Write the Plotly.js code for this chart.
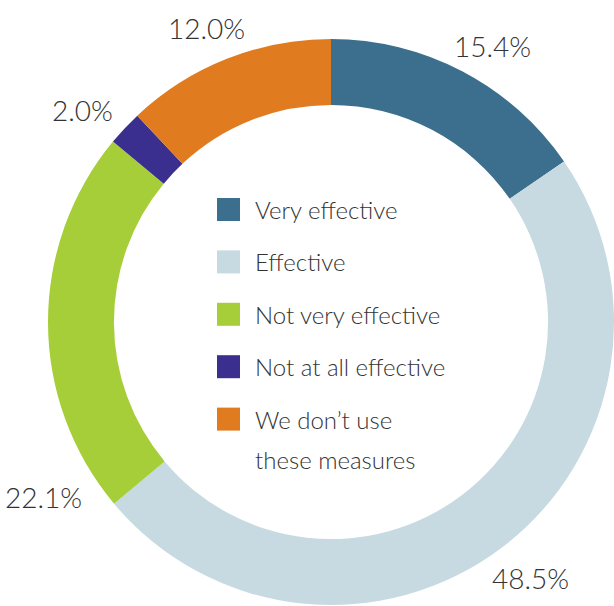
<!DOCTYPE html>
<html><head><meta charset="utf-8">
<script src="https://cdn.plot.ly/plotly-3.0.1.min.js"></script>
<style>html,body{margin:0;padding:0;background:#fff}#c{width:614px;height:606px}</style>
</head><body><div id="c"></div>
<script>
const labels = ["Very effective","Effective","Not very effective","Not at all effective","We don’t use these measures"];
const legendLines = [["Very effective"],["Effective"],["Not very effective"],["Not at all effective"],["We don’t use","these measures"]];
const values = [15.4, 48.5, 22.1, 2.0, 12.0];
const colors = ["#3C6E8E","#C7D9E1","#A6CE39","#3A2F8F","#E07B1F"];
const valueLabelPos = [[492,46],[530,578],[43,497],[82,110],[206,28]];

const W = 614, H = 606;
const FONT = "Lato, 'Open Sans', sans-serif";
const TXT = "#333333";

const annotations = [];
const shapes = [];
values.forEach((v,i)=>{
  annotations.push({x: valueLabelPos[i][0]/W, y: 1 - valueLabelPos[i][1]/H, xref:'paper', yref:'paper',
    text: v.toFixed(1)+'%', showarrow:false, xanchor:'center', yanchor:'middle',
    font:{family:FONT, size:28, color:TXT, weight:300}});
});
// legend inside the hole
const legX0 = 217, legRow0 = 209.5, legStep = 52.4, sq = 23;
legendLines.forEach((lines,i)=>{
  const cy = legRow0 + i*legStep;
  shapes.push({type:'rect', xref:'paper', yref:'paper', x0: legX0/W, x1:(legX0+sq)/W,
    y0: 1-(cy+sq/2)/H, y1: 1-(cy-sq/2)/H, fillcolor: colors[i], line:{width:0}});
  lines.forEach((t,j)=>{
    annotations.push({x: 253/W, y: 1-(cy + j*40)/H, xref:'paper', yref:'paper', text:t, showarrow:false,
      xanchor:'left', yanchor:'middle', font:{family:FONT, size:24, color:TXT, weight:300}});
  });
});

Plotly.newPlot('c', [{
  type:'pie', labels: labels, values: values, sort:false, direction:'clockwise', rotation:0,
  hole: 0.767, marker:{colors: colors, line:{width:0}}, textinfo:'none', hoverinfo:'none',
  domain:{x:[48/W, 1], y:[1/H, 567/H]}, showlegend:false
}], {
  width: W, height: H, margin:{l:0,r:0,t:0,b:0}, paper_bgcolor:'#fff', showlegend:false,
  annotations: annotations, shapes: shapes
}, {displayModeBar:false, staticPlot:true});
</script></body></html>
